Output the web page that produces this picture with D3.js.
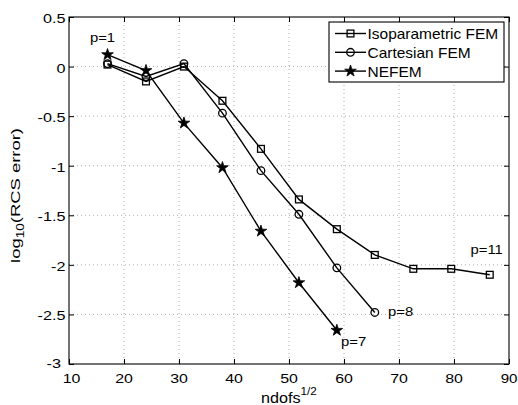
<!DOCTYPE html>
<html><head><meta charset="utf-8">
<script src="https://cdn.jsdelivr.net/npm/d3@7"></script>
<style>body{margin:0;background:#fff}svg{display:block}text{font-family:"Liberation Sans",Arial,sans-serif;fill:#000}</style>
</head><body><svg id="c" width="518" height="405"></svg>
<script>
const isoX = [17, 24, 30.9, 37.9, 44.9, 51.8, 58.7, 65.6, 72.6, 79.5, 86.5];
const isoY = [0.02, -0.15, 0.0, -0.345, -0.83, -1.34, -1.64, -1.90, -2.04, -2.04, -2.10];
const cartX = [17, 24, 30.9, 37.9, 44.9, 51.8, 58.7, 65.6];
const cartY = [0.03, -0.10, 0.03, -0.47, -1.05, -1.49, -2.03, -2.48];
const nefX = [17, 24, 30.9, 37.9, 44.9, 51.8, 58.7];
const nefY = [0.12, -0.04, -0.57, -1.02, -1.66, -2.18, -2.66];
const xTicks = [10, 20, 30, 40, 50, 60, 70, 80, 90];
const yTicks = [0.5, 0, -0.5, -1, -1.5, -2, -2.5, -3];
const seriesNames = ["Isoparametric FEM", "Cartesian FEM", "NEFEM"];
const annotations = [
  {text: "p=1", x: 13.8, y: 0.243},
  {text: "p=11", x: 83.0, y: -1.89},
  {text: "p=8", x: 68.0, y: -2.516},
  {text: "p=7", x: 59.45, y: -2.82}
];

const svg = d3.select("#c");
const L = 69, R = 509, T = 17, B = 364;
const x = d3.scaleLinear().domain([10, 90]).range([L, R]);
const y = d3.scaleLinear().domain([-3, 0.5]).range([B, T]);

function addText(parent, px, py, str, size, sx, anchor) {
  const g = parent.append("g").attr("transform", `translate(${px},${py})`);
  return g.append("text").attr("text-anchor", anchor || "start")
    .attr("transform", `scale(${sx},1)`).style("font-size", size + "px").text(str);
}

// grid
svg.selectAll(".gx").data(xTicks.slice(1, -1)).enter().append("line")
  .attr("x1", d => x(d)).attr("x2", d => x(d)).attr("y1", T).attr("y2", B)
  .attr("stroke", "#9a9a9a").attr("stroke-width", 0.8).attr("stroke-dasharray", "1,3");
svg.selectAll(".gy").data(yTicks.slice(1, -1)).enter().append("line")
  .attr("y1", d => y(d)).attr("y2", d => y(d)).attr("x1", L).attr("x2", R)
  .attr("stroke", "#9a9a9a").attr("stroke-width", 0.8).attr("stroke-dasharray", "1,3");

// axes (ticks via d3 axes, labels drawn separately)
const ax = (gen, tr) => { const s = svg.append("g").attr("transform", tr).call(gen); s.select(".domain").remove(); s.selectAll("line").attr("stroke", "#000"); s.selectAll("text").remove(); return s; };
ax(d3.axisBottom(x).tickValues(xTicks).tickSizeInner(-5).tickSizeOuter(0), `translate(0,${B})`);
ax(d3.axisTop(x).tickValues(xTicks).tickSizeInner(-5).tickSizeOuter(0), `translate(0,${T})`);
ax(d3.axisLeft(y).tickValues(yTicks).tickSizeInner(-5).tickSizeOuter(0), `translate(${L},0)`);
ax(d3.axisRight(y).tickValues(yTicks).tickSizeInner(-5).tickSizeOuter(0), `translate(${R},0)`);
svg.append("rect").attr("x", L).attr("y", T).attr("width", R - L).attr("height", B - T)
  .attr("fill", "none").attr("stroke", "#000").attr("stroke-width", 1.1);

xTicks.forEach((v, i) => {
  if (i === xTicks.length - 1) addText(svg, 517.5, 382.5, String(v), 13.5, 1.12, "end");
  else addText(svg, x(v) + (i === 0 ? 2.5 : 0), 382.5, String(v), 13.5, 1.18, "middle");
});
yTicks.forEach(v => {
  const last = v === -3;
  addText(svg, last ? 61 : 65.5, y(v) + (last ? 4 : 6), String(v), 13.5, 1.2, "end");
});

// markers
const star = d3.symbol().type(d3.symbolStar).size(42);
function marker(sel, type) {
  if (type === 0) sel.append("rect").attr("x", -3.4).attr("y", -3.4).attr("width", 6.8).attr("height", 6.8).attr("fill", "none").attr("stroke", "#000").attr("stroke-width", 1.3);
  else if (type === 1) sel.append("circle").attr("r", 3.8).attr("fill", "none").attr("stroke", "#000").attr("stroke-width", 1.3);
  else sel.append("path").attr("d", star()).attr("fill", "#000").attr("stroke", "#000").attr("stroke-width", 0.8);
}
const line = d3.line().x(d => x(d[0])).y(d => y(d[1]));
const series = [[isoX, isoY], [cartX, cartY], [nefX, nefY]];
series.forEach(([xs, ys], i) => {
  const pts = xs.map((v, k) => [v, ys[k]]);
  svg.append("path").attr("d", line(pts)).attr("fill", "none").attr("stroke", "#000").attr("stroke-width", 1.4);
  pts.forEach(p => marker(svg.append("g").attr("transform", `translate(${x(p[0])},${y(p[1])})`), i));
});

// annotations
annotations.forEach(a => addText(svg, x(a.x), y(a.y), a.text, 13.5, 1.1));

// legend
const lg = svg.append("g");
lg.append("rect").attr("x", 329).attr("y", 22).attr("width", 175).attr("height", 60).attr("fill", "#fff").attr("stroke", "#000").attr("stroke-width", 1.1);
seriesNames.forEach((n, i) => {
  const yy = 33.5 + i * 18.8;
  lg.append("line").attr("x1", 335).attr("x2", 366).attr("y1", yy).attr("y2", yy).attr("stroke", "#000").attr("stroke-width", 1.4);
  marker(lg.append("g").attr("transform", `translate(350.5,${yy})`), i);
  addText(lg, 367.5, yy + 5.5, n, 14.2, 1.09);
});

// x label
const xg = svg.append("g").attr("transform", "translate(261,403)");
const xl = xg.append("text").style("font-size", "14.5px");
xl.append("tspan").text("ndofs");
xl.append("tspan").attr("dy", -8).style("font-size", "10.5px").text("1/2");
const xw = xl.node().getBBox().width;
xl.attr("transform", `scale(${56 / xw},1)`);

// y label
const yg = svg.append("g").attr("transform", "translate(20,195.5) rotate(-90)");
const ylab = yg.append("text").attr("text-anchor", "middle").style("font-size", "13.5px");
ylab.append("tspan").text("log");
ylab.append("tspan").attr("dy", 4).style("font-size", "10px").text("10");
ylab.append("tspan").attr("dy", -4).text("(RCS error)");
const yw = ylab.node().getBBox().width;
ylab.attr("transform", `scale(${135 / yw},1)`);
</script></body></html>
